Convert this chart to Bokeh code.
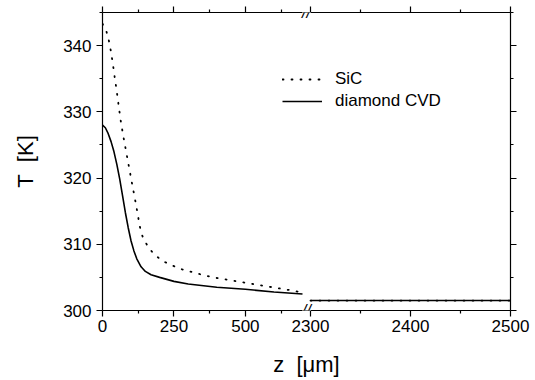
import numpy as np
from bokeh.plotting import figure
from bokeh.models import FixedTicker, LinearAxis, Label, Legend, LegendItem, Range1d, CustomJSTickFormatter
from bokeh.embed import file_html
from bokeh.resources import INLINE

# ---- data ----
sic_z_left = [0, 14, 21, 26, 31, 36, 40, 44, 49, 53, 57, 61, 65, 75, 90, 105, 116, 131, 140, 157,
              178, 209, 244, 279, 314, 348, 387, 457, 527, 596, 666, 700]
sic_T_left = [343.3, 342.1, 341.0, 340.0, 338.7, 337.3, 336.1, 334.8, 333.4, 332.1, 330.8, 329.5,
              328.3, 325.8, 322.3, 318.8, 316.3, 312.6, 311.2, 309.8,
              308.6, 307.5, 306.8, 306.2, 305.8, 305.4, 305.0, 304.5, 304.0, 303.5, 303.0, 302.7]
dia_z_left = [0, 10, 20, 30, 40, 50, 60, 70, 80, 90, 100, 110, 120, 135, 150, 170, 200, 250,
              300, 400, 500, 600, 700]
dia_T_left = [328.0, 327.6, 326.7, 325.5, 324.0, 322.1, 319.9, 317.4, 314.8, 312.5, 310.5, 309.0,
              307.8, 306.6, 305.9, 305.4, 305.0, 304.4, 304.0, 303.5, 303.2, 302.8, 302.5]
z_right = [2300, 2500]
sic_T_right = [301.5, 301.5]
dia_T_right = [301.5, 301.5]

x_major = [0, 250, 500, 2300, 2400, 2500]
x_minor = [125, 375, 625, 2350, 2450]
x_labels = ["0", "250", "500", "2300", "2400", "2500"]
y_major = [300, 310, 320, 330, 340]
y_minor = [305, 315, 325, 335, 345]
y_labels = ["300", "310", "320", "330", "340"]
series_names = ["SiC", "diamond CVD"]
x_title = "z\u00a0\u00a0[\u03bcm]"
y_title = "T\u00a0\u00a0[K]"

# ---- broken-axis mapping ----
LEFT_END = 700.0
GAP = 28.0
RIGHT_START = 2300.0
RIGHT_SCALE = 3.5


def to_axis(z):
    z = np.asarray(z, dtype=float)
    return np.where(z <= LEFT_END, z, LEFT_END + GAP + (z - RIGHT_START) * RIGHT_SCALE)


def joined(zl, tl, zr, tr):
    x = np.concatenate([to_axis(zl), [np.nan], to_axis(zr)])
    y = np.concatenate([np.asarray(tl, float), [np.nan], np.asarray(tr, float)])
    return x, y


FONT = "Liberation Sans"
x_end = float(to_axis([2500])[0])

p = figure(width=535, height=380, output_backend="svg", toolbar_location=None,
           x_range=Range1d(0, x_end), y_range=Range1d(300, 345),
           min_border_left=102, min_border_right=25, min_border_top=12, min_border_bottom=70)
p.outline_line_color = None
p.grid.visible = False
p.background_fill_color = "white"
p.border_fill_color = "white"

xt = FixedTicker(ticks=list(to_axis(x_major)), minor_ticks=list(to_axis(x_minor)))
yt = FixedTicker(ticks=y_major, minor_ticks=y_minor)
xover = {float(u): s for u, s in zip(to_axis(x_major), x_labels)}
yover = {v: s for v, s in zip(y_major, y_labels)}

blank = CustomJSTickFormatter(code="return '';")
top = LinearAxis(formatter=blank)
right = LinearAxis(formatter=blank)
p.add_layout(top, "above")
p.add_layout(right, "right")

for ax in p.xaxis:
    ax.ticker = xt
for ax in p.yaxis:
    ax.ticker = yt
p.below[0].major_label_overrides = xover
p.left[0].major_label_overrides = yover

for ax in list(p.xaxis) + list(p.yaxis):
    ax.axis_line_color = "black"
    ax.axis_line_width = 1.2
    ax.major_tick_line_color = "black"
    ax.minor_tick_line_color = "black"
    ax.major_tick_line_width = 1.2
    ax.minor_tick_line_width = 1.2
    ax.major_tick_in = 0
    ax.major_tick_out = 6
    ax.minor_tick_in = 0
    ax.minor_tick_out = 3
    ax.major_label_text_font = FONT
    ax.major_label_text_font_size = "17px"
    ax.major_label_text_color = "black"
    ax.axis_label_text_font = FONT
    ax.axis_label_text_font_style = "normal"
    ax.axis_label_text_font_size = "22px"
    ax.axis_label_text_color = "black"

top.major_label_standoff = 0
right.major_label_standoff = 0

p.below[0].axis_label = x_title
p.below[0].major_label_standoff = 3
p.below[0].axis_label_standoff = 17
p.left[0].axis_label = y_title
p.left[0].major_label_standoff = 5
p.left[0].axis_label_standoff = 22

sx, sy = joined(sic_z_left, sic_T_left, z_right, sic_T_right)
dx, dy = joined(dia_z_left, dia_T_left, z_right, dia_T_right)
r_dia = p.line(dx, dy, line_color="black", line_width=1.6)
r_sic = p.line(sx, sy, line_color="black", line_width=1.8, line_dash="1 8", line_cap="round")

legend = Legend(items=[LegendItem(label=series_names[0], renderers=[r_sic]),
                       LegendItem(label=series_names[1], renderers=[r_dia])],
                location=(180, 199), orientation="vertical")
legend.border_line_color = None
legend.background_fill_alpha = 0
legend.padding = 0
legend.margin = 0
legend.spacing = 2
legend.glyph_width = 40
legend.glyph_height = 20
legend.label_height = 20
legend.label_standoff = 13
legend.label_text_font = FONT
legend.label_text_font_size = "17px"
legend.label_text_color = "black"
p.add_layout(legend, "center")

# break marks on the x axis
gap_mid = LEFT_END + GAP / 2
for yv in (300, 345):
    p.add_layout(Label(x=gap_mid, y=yv, text="//", text_align="center", text_baseline="middle",
                       text_font=FONT, text_font_size="16px", text_font_style="italic",
                       text_color="black", background_fill_color="white"))

open("out.html", "w").write(file_html(p, INLINE))
